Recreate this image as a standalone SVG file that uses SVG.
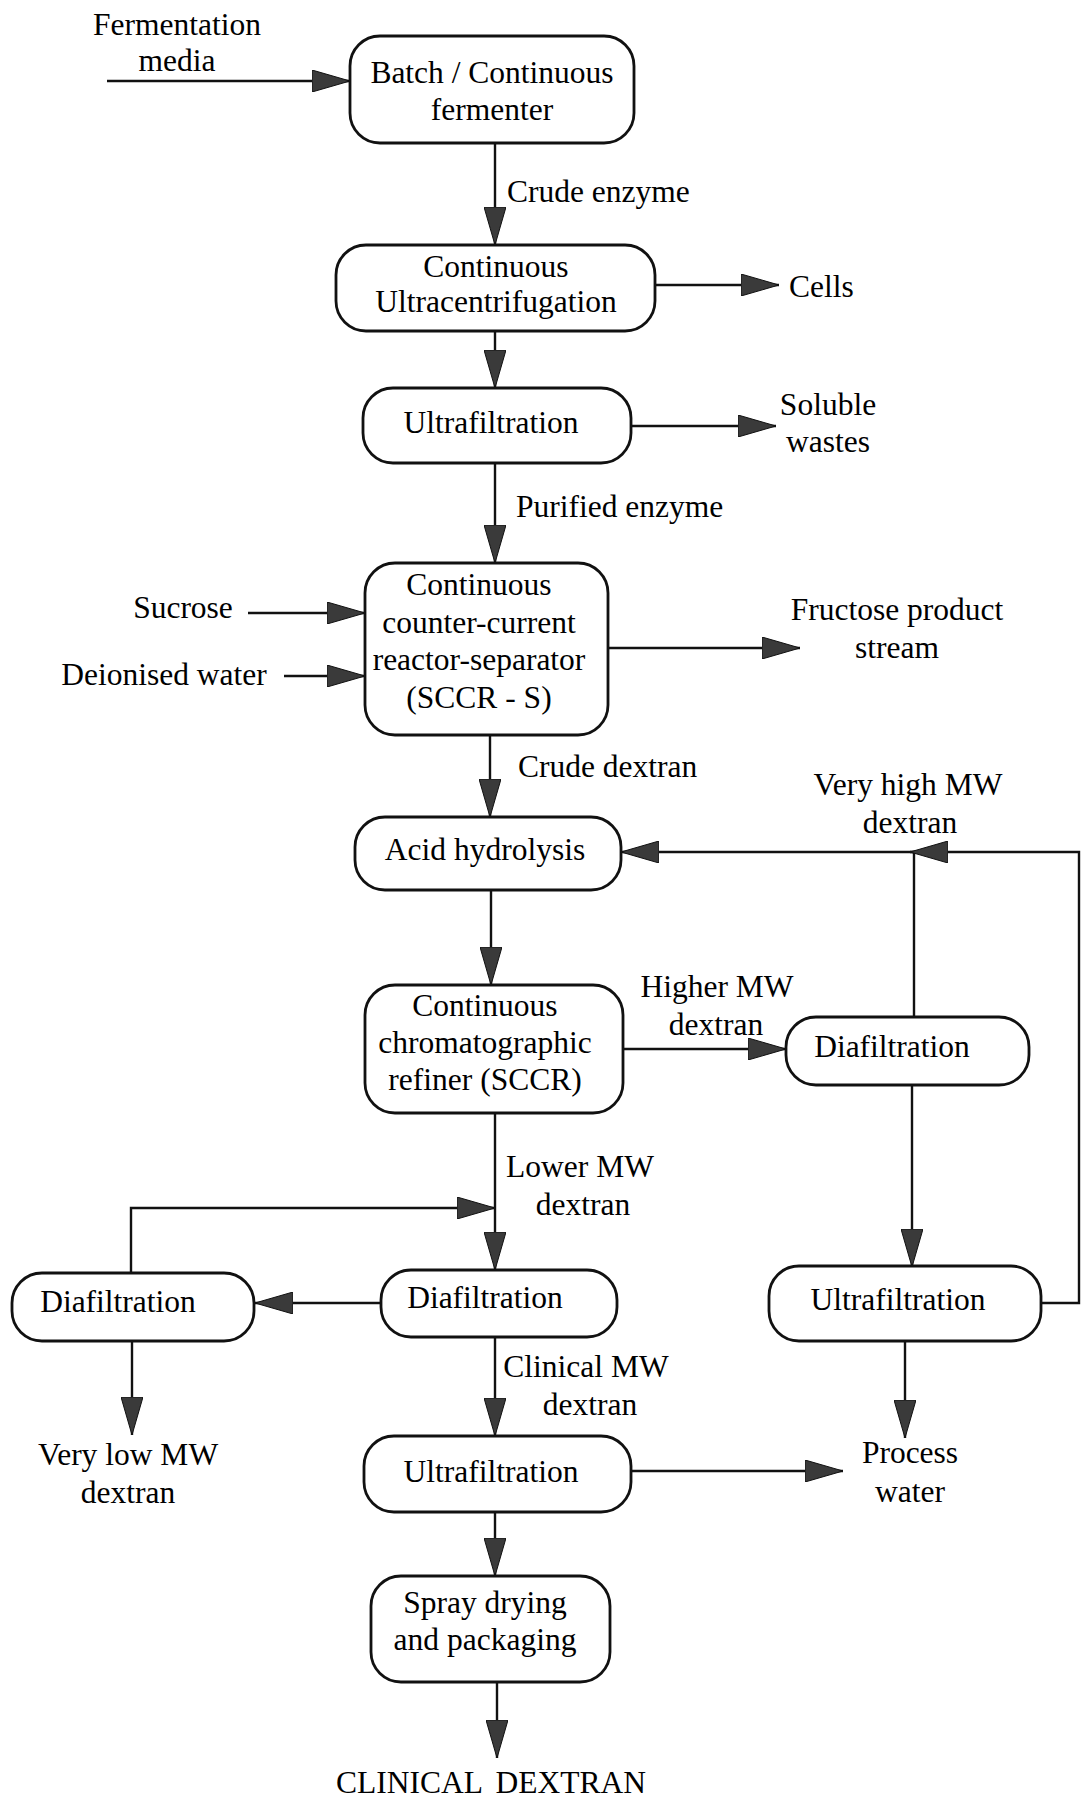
<svg xmlns="http://www.w3.org/2000/svg" width="1081" height="1799" viewBox="0 0 1081 1799">
<style>
text{font-family:"Liberation Serif","Times New Roman",serif;font-size:31.5px;fill:#000}
.m{text-anchor:middle}
.box{fill:#fff;stroke:#111;stroke-width:2.8}
.ln{fill:none;stroke:#111;stroke-width:2.4}
</style>
<defs>
<marker id="arr" viewBox="0 0 38 22" refX="38" refY="11" markerWidth="38" markerHeight="22" markerUnits="userSpaceOnUse" orient="auto">
<path d="M0,0 L38,11 L0,22 Z" fill="#3a3a3a" stroke="#111" stroke-width="1"/>
</marker>
</defs>
<rect width="1081" height="1799" fill="#fff"/>
<g id="connectors">
<path class="ln" marker-end="url(#arr)" d="M107,81 H350"/>
<path class="ln" marker-end="url(#arr)" d="M495,143 V245"/>
<path class="ln" marker-end="url(#arr)" d="M655,285 H779"/>
<path class="ln" marker-end="url(#arr)" d="M495,331 V388"/>
<path class="ln" marker-end="url(#arr)" d="M631,426 H776"/>
<path class="ln" marker-end="url(#arr)" d="M495,463 V563"/>
<path class="ln" marker-end="url(#arr)" d="M248,613 H365"/>
<path class="ln" marker-end="url(#arr)" d="M284,676 H365"/>
<path class="ln" marker-end="url(#arr)" d="M608,648 H800"/>
<path class="ln" marker-end="url(#arr)" d="M490,735 V817"/>
<path class="ln" marker-end="url(#arr)" d="M491,890 V985"/>
<path class="ln" marker-end="url(#arr)" d="M623,1049 H786"/>
<path class="ln" marker-end="url(#arr)" d="M914,1017 V852 H621"/>
<path class="ln" marker-end="url(#arr)" d="M1041,1303 H1079 V852 H910"/>
<path class="ln" marker-end="url(#arr)" d="M912,1085 V1267"/>
<path class="ln" marker-end="url(#arr)" d="M905,1341 V1438"/>
<path class="ln" marker-end="url(#arr)" d="M495,1113 V1270"/>
<path class="ln" marker-end="url(#arr)" d="M381,1303 H255"/>
<path class="ln" marker-end="url(#arr)" d="M131,1273 V1208 H495"/>
<path class="ln" marker-end="url(#arr)" d="M132,1341 V1435"/>
<path class="ln" marker-end="url(#arr)" d="M495,1337 V1436"/>
<path class="ln" marker-end="url(#arr)" d="M631,1471 H843"/>
<path class="ln" marker-end="url(#arr)" d="M495,1512 V1576"/>
<path class="ln" marker-end="url(#arr)" d="M497,1682 V1758"/>
</g>
<g id="fermenter"><rect class="box" x="350" y="36" width="284" height="107" rx="30"/><text class="m" x="492" y="83">Batch / Continuous</text><text class="m" x="492" y="120">fermenter</text></g>
<g id="ultracentrifugation"><rect class="box" x="336" y="245" width="319" height="86" rx="30"/><text class="m" x="496" y="277">Continuous</text><text class="m" x="496" y="312">Ultracentrifugation</text></g>
<g id="ultrafiltration1"><rect class="box" x="363" y="388" width="268" height="75" rx="30"/><text class="m" x="491" y="433">Ultrafiltration</text></g>
<g id="sccrs"><rect class="box" x="365" y="563" width="243" height="172" rx="30"/><text class="m" x="479" y="595">Continuous</text><text class="m" x="479" y="633">counter-current</text><text class="m" x="479" y="670">reactor-separator</text><text class="m" x="479" y="708">(SCCR - S)</text></g>
<g id="acid"><rect class="box" x="355" y="817" width="266" height="73" rx="30"/><text class="m" x="485" y="860">Acid hydrolysis</text></g>
<g id="sccr"><rect class="box" x="365" y="985" width="258" height="128" rx="30"/><text class="m" x="485" y="1016">Continuous</text><text class="m" x="485" y="1053">chromatographic</text><text class="m" x="485" y="1090">refiner (SCCR)</text></g>
<g id="diaf_right"><rect class="box" x="786" y="1017" width="243" height="68" rx="30"/><text class="m" x="892" y="1057">Diafiltration</text></g>
<g id="ultraf_right"><rect class="box" x="769" y="1266" width="272" height="75" rx="30"/><text class="m" x="898" y="1310">Ultrafiltration</text></g>
<g id="diaf_mid"><rect class="box" x="381" y="1270" width="236" height="67" rx="30"/><text class="m" x="485" y="1308">Diafiltration</text></g>
<g id="diaf_left"><rect class="box" x="12" y="1273" width="242" height="68" rx="30"/><text class="m" x="118" y="1312">Diafiltration</text></g>
<g id="ultraf_bottom"><rect class="box" x="364" y="1436" width="267" height="76" rx="30"/><text class="m" x="491" y="1482">Ultrafiltration</text></g>
<g id="spray"><rect class="box" x="371" y="1576" width="239" height="106" rx="30"/><text class="m" x="485" y="1613">Spray drying</text><text class="m" x="485" y="1650">and packaging</text></g>
<g id="labels">
<text class="m" x="177" y="35">Fermentation</text><text class="m" x="177" y="71">media</text>
<text x="507" y="202">Crude enzyme</text>
<text x="789" y="297">Cells</text>
<text class="m" x="828" y="415">Soluble</text><text class="m" x="828" y="452">wastes</text>
<text x="516" y="517">Purified enzyme</text>
<text class="m" x="183" y="618">Sucrose</text>
<text class="m" x="164" y="685">Deionised water</text>
<text class="m" x="897" y="620">Fructose product</text><text class="m" x="897" y="658">stream</text>
<text x="518" y="777">Crude dextran</text>
<text class="m" x="908" y="795">Very high MW</text><text class="m" x="910" y="833">dextran</text>
<text class="m" x="717" y="997">Higher MW</text><text class="m" x="716" y="1035">dextran</text>
<text class="m" x="580" y="1177">Lower MW</text><text class="m" x="583" y="1215">dextran</text>
<text class="m" x="586" y="1377">Clinical MW</text><text class="m" x="590" y="1415">dextran</text>
<text class="m" x="128" y="1465">Very low MW</text><text class="m" x="128" y="1503">dextran</text>
<text class="m" x="910" y="1463">Process</text><text class="m" x="910" y="1502">water</text>
<text class="m" x="491" y="1793" word-spacing="6">CLINICAL DEXTRAN</text>
</g>
</svg>
